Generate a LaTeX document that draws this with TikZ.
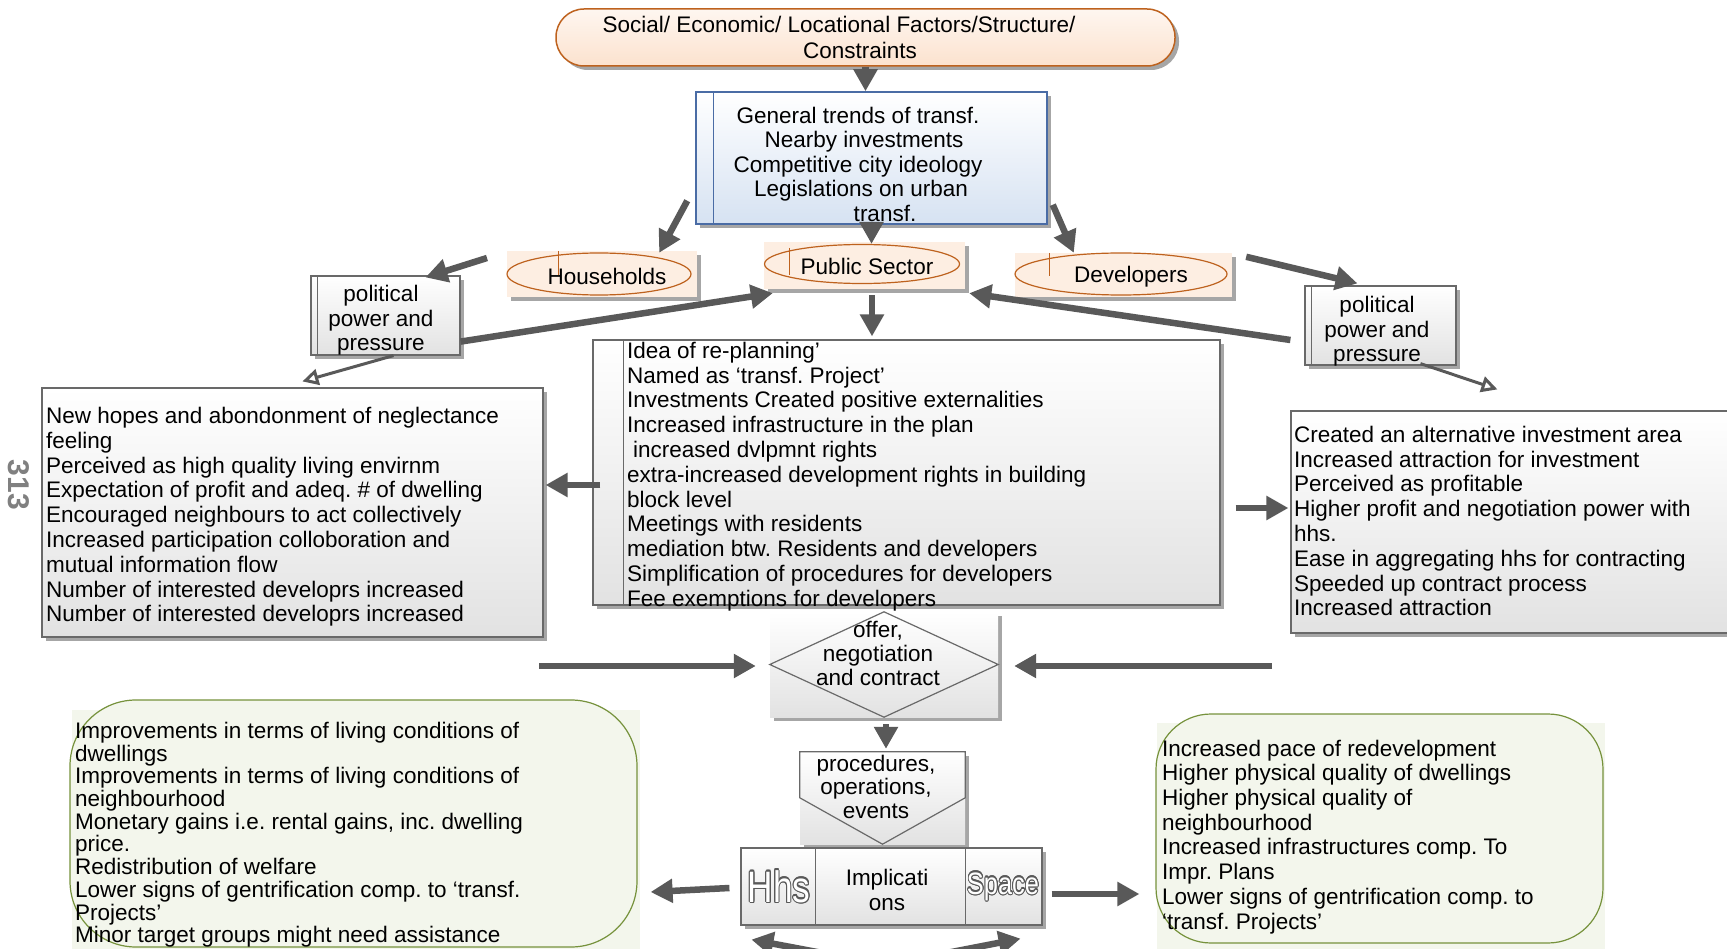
\documentclass[tikz,border=0pt]{standalone}
\usepackage{fontspec}
\usepackage{graphicx}
\setmainfont{Liberation Sans}
\usepackage[copies]{contour}
\usetikzlibrary{arrows.meta,shapes.geometric,shadows,calc}
\definecolor{arrowgray}{RGB}{89,89,89}
\definecolor{boxline}{RGB}{105,105,105}
\definecolor{boxfill}{RGB}{226,226,226}
\definecolor{peachline}{RGB}{190,98,30}
\definecolor{peachfill}{RGB}{252,226,206}
\definecolor{blueline}{RGB}{74,108,165}
\definecolor{bluefill}{RGB}{214,226,242}
\definecolor{greenline}{RGB}{118,146,60}
\definecolor{greenfill}{RGB}{243,246,236}
\definecolor{pagegray}{RGB}{128,128,128}
\contourlength{1.1pt}
\frenchspacing

\tikzset{
	txt/.style={font=\fontsize{22.5}{24.8}\selectfont, inner sep=0pt},
	listtxt/.style={txt, align=left, anchor=north west},
	boxshadow/.style={drop shadow={shadow xshift=4pt, shadow yshift=-4pt, fill=black!35, opacity=1}},
	graybox/.style={draw=boxline, line width=1.2pt, top color=white, bottom color=boxfill, boxshadow},
	peachbg/.style={fill=peachfill!60, boxshadow},
	actor/.style={ellipse, draw=peachline, line width=1.2pt, inner sep=0pt},
	greenbox/.style={draw=greenline, line width=1.2pt, fill=greenfill},
	bigarrow/.style={line width=6.5pt, draw=arrowgray, -{Triangle[length=22pt,width=23pt]}},
	thinarrow/.style={line width=3pt, draw=arrowgray, -{Triangle[open,length=16pt,width=16pt]}}
}

\begin{document}
\begin{tikzpicture}[x=1pt, y=-1pt]
			\useasboundingbox (0,0) rectangle (1727,949);
			\clip (0,0) rectangle (1727,949);
			
			% Page number on the margin
			\node[rotate=-90, font=\fontsize{30}{30}\selectfont\bfseries, text=pagegray, inner sep=0pt] (pageNo) at (19,485) {313};
			
			% Draw the factors and the general trends
			\node[draw=peachline, line width=1.5pt, rounded corners=28pt, top color=peachfill!30, bottom color=peachfill, boxshadow, minimum width=619, minimum height=57] (factors) at (865.5,37.5) {};
			\node[txt, align=center, anchor=north, font=\fontsize{22.5}{26.5}\selectfont] (factorsText) at (860,15.9) {Social/ Economic/ Locational Factors/Structure/\rule{42pt}{0pt}\\Constraints};
			
			\node[draw=blueline, line width=1.5pt, top color=white, bottom color=bluefill, boxshadow, minimum width=351, minimum height=132] (trends) at (871.5,158) {};
			\draw[blueline, line width=1.2pt] ($(trends.north west)+(18,0)$) -- ($(trends.south west)+(18,0)$);
			\node[txt, align=center, anchor=north, font=\fontsize{22.5}{24.5}\selectfont] (trendsText) at (858,106.7) {General trends of transf.\\\rule{12pt}{0pt}Nearby investments\\Competitive city ideology\\\rule{6pt}{0pt}Legislations on urban\\\rule{54pt}{0pt}transf.};
			
			% Draw the three actors
			\node[peachbg, minimum width=190, minimum height=46] (hhBg) at (602,274) {};
			\node[actor, minimum width=184, minimum height=42] (hh) at (599,274) {};
			\draw[peachline, line width=1.2pt] ($(hh.west)+(52,-23)$) -- ($(hh.west)+(52,1)$);
			\node[txt] (hhText) at (607,276) {Households};
			
			\node[peachbg, minimum width=201, minimum height=47] (pubBg) at (864.5,265.5) {};
			\node[actor, minimum width=195, minimum height=39] (pub) at (862,264) {};
			\draw[peachline, line width=1.2pt] ($(pub.west)+(25.5,-16)$) -- ($(pub.west)+(25.5,11)$);
			\node[txt] (pubText) at (867,266) {Public Sector};
			
			\node[peachbg, minimum width=217, minimum height=44] (devBg) at (1123.5,275) {};
			\node[actor, minimum width=212, minimum height=42] (dev) at (1121,274) {};
			\draw[peachline, line width=1.2pt] ($(dev.west)+(35,-21)$) -- ($(dev.west)+(35,2)$);
			\node[txt] (devText) at (1131,277) {Developers};
			
			% Political power boxes
			\node[graybox, minimum width=149, minimum height=79] (polL) at (385.5,315.5) {};
			\draw[boxline, line width=1.2pt] ($(polL.north west)+(7,0)$) -- ($(polL.south west)+(7,0)$);
			\node[txt, align=center, anchor=north] (polLText) at (381,284.7) {political\\power and\\pressure};
			
			\node[graybox, minimum width=151, minimum height=79] (polR) at (1380.5,325.5) {};
			\draw[boxline, line width=1.2pt] ($(polR.north west)+(7,0)$) -- ($(polR.south west)+(7,0)$);
			\node[txt, align=center, anchor=north] (polRText) at (1377,295.7) {political\\power and\\pressure};
			
			% Public sector measures
			\node[graybox, minimum width=627, minimum height=265] (plan) at (906.5,472.5) {};
			\draw[boxline, line width=1.2pt] ($(plan.north west)+(31,0)$) -- ($(plan.south west)+(31,0)$);
			\node[listtxt] (planText) at (627,341.7) {Idea of re-planning’\\Named as ‘transf. Project’\\Investments Created positive externalities\\Increased infrastructure in the plan\\\hspace*{6pt}increased dvlpmnt rights\\extra-increased development rights in building\\block level\\Meetings with residents\\mediation btw. Residents and developers\\Simplification of procedures for developers\\Fee exemptions for developers};
			
			% Effects on households and developers
			\node[graybox, minimum width=501, minimum height=249] (hhEffects) at (292.5,512.5) {};
			\node[listtxt] (hhEffText) at (46,406.9) {New hopes and abondonment of neglectance\\feeling\\Perceived as high quality living envirnm\\Expectation of profit and adeq. \# of dwelling\\Encouraged neighbours to act collectively\\Increased participation colloboration and\\mutual information flow\\Number of interested developrs increased\\Number of interested developrs increased};
			
			\node[graybox, minimum width=460, minimum height=222] (devEffects) at (1521,522) {};
			\node[listtxt] (devEffText) at (1294,425.7) {Created an alternative investment area\\Increased attraction for investment\\Perceived as profitable\\Higher profit and negotiation power with\\hhs.\\Ease in aggregating hhs for contracting\\Speeded up contract process\\Increased attraction};
			
			% Offer, procedures and implications
			\node[top color=white, bottom color=boxfill, boxshadow, minimum width=228, minimum height=105] (offerBg) at (884,664.5) {};
			\draw[boxline, line width=1.2pt] (offerBg.west) -- (offerBg.north) -- (offerBg.east) -- (offerBg.south) -- cycle;
			\node[txt, align=center, anchor=north, font=\fontsize{22.5}{24}\selectfont] (offer) at (878,620.7) {offer,\\negotiation\\and contract};
			
			\node[top color=white, bottom color=boxfill, boxshadow, minimum width=165, minimum height=92] (procBg) at (882.5,798) {};
			\draw[boxline, line width=1.2pt] (procBg.north west) -- (procBg.north east) -- ($(procBg.north east)+(0,46)$) -- (procBg.south) -- ($(procBg.north west)+(0,46)$) -- cycle;
			\node[txt, align=center, anchor=north, font=\fontsize{22.5}{23.5}\selectfont] (proc) at (876,754.7) {procedures,\\operations,\\events};
			
			\node[graybox, minimum width=301, minimum height=77] (impl) at (891.5,886.5) {};
			\draw[boxline, line width=1.2pt] ($(impl.north west)+(75,0)$) -- ($(impl.south west)+(75,0)$);
			\draw[boxline, line width=1.2pt] ($(impl.north west)+(225,0)$) -- ($(impl.south west)+(225,0)$);
			\node[txt, align=center, anchor=north] (implText) at (887,868.7) {Implicati\\ons};
			\node[inner sep=0pt, anchor=base, text=white, font=\fontsize{44}{44}\selectfont] (hhsLabel) at (779,902) {\scalebox{0.8}[1]{\contour{arrowgray}{Hhs}}};
			\node[inner sep=0pt, anchor=base, text=white, font=\fontsize{31}{31}\selectfont] (spaceLabel) at (1003,894) {\scalebox{0.82}[1]{\contour{arrowgray}{Space}}};
			
			% Outcomes for households and space
			\node[fill=greenfill, minimum width=568, minimum height=239] (hhOutBg) at (356,829.5) {};
			\node[greenbox, rounded corners=66pt, minimum width=567, minimum height=247] (hhOut) at (353.5,823.5) {};
			\node[listtxt, font=\fontsize{22.5}{22.7}\selectfont] (hhOutText) at (75,721.9) {Improvements in terms of living conditions of\\dwellings\\Improvements in terms of living conditions of\\neighbourhood\\Monetary gains i.e. rental gains, inc. dwelling\\price.\\Redistribution of welfare\\Lower signs of gentrification comp. to ‘transf.\\Projects’\\Minor target groups might need assistance};
			
			\node[fill=greenfill, minimum width=448, minimum height=226] (spaceOutBg) at (1381,836) {};
			\node[greenbox, rounded corners=55pt, minimum width=447, minimum height=229] (spaceOut) at (1379.5,828.5) {};
			\node[listtxt, font=\fontsize{22.5}{24.7}\selectfont] (spaceOutText) at (1162,739.6) {Increased pace of redevelopment\\Higher physical quality of dwellings\\Higher physical quality of\\neighbourhood\\Increased infrastructures comp. To\\Impr. Plans\\Lower signs of gentrification comp. to\\‘transf. Projects’};
			
			% Free ends of some arrows
			\coordinate (hhPush) at (487,258);
			\coordinate (hhIn) at (539,666);
			\coordinate (devIn) at (1272,666);
			\coordinate (loopL) at (870,962);
			\coordinate (loopR) at (900,962);
			
			% Draw the arrows
			\draw[bigarrow] (factors.south) -- (factors.south |- trends.north);
			\draw[bigarrow] ($(trends.south west)+(-8,-24)$) -- ($(hhBg.north east)+(-38,2)$);
			\draw[bigarrow] (trends.south) -- (trends.south |- pub.north);
			\draw[bigarrow] ($(trends.south east)+(5,-20)$) -- ($(devBg.north west)+(59,0)$);
			\draw[bigarrow] (hhPush) -- ($(polL.north)+(40,2)$);
			\draw[bigarrow] ($(polL.south east)+(0,-14)$) -- ($(pubBg.south west)+(9,4)$);
			\draw[thinarrow] ($(polL.south)+(8,0)$) -- ($(hhEffects.north west)+(261,-6)$);
			\draw[bigarrow] ($(devBg.north east)+(14,4)$) -- ($(polR.north)+(-23,-2)$);
			\draw[bigarrow] ($(polR.west)+(-14,14.5)$) -- ($(pubBg.south east)+(4,4)$);
			\draw[thinarrow] ($(polR.south)+(40,-2)$) -- ($(devEffects.north west)+(207,-21)$);
			\draw[bigarrow] ($(pubBg.south)+(7.5,6)$) -- ($(plan.north)+(-34.5,-3)$);
			\draw[bigarrow] ($(plan.west)+(8,12.5)$) -- ($(hhEffects.east)+(2,-27.5)$);
			\draw[bigarrow] ($(plan.east)+(15,35.5)$) -- ($(devEffects.west)+(-2,-14)$);
			\draw[bigarrow] (hhIn) -- ($(offerBg.west)+(-14,1.5)$);
			\draw[bigarrow] (devIn) -- ($(offerBg.east)+(16,1.5)$);
			\draw[bigarrow] ($(offerBg.south)+(2,7)$) -- ($(procBg.north)+(3.5,-3)$);
			\draw[bigarrow] ($(impl.west)+(-11,1.5)$) -- ($(hhOut.east)+(13,68.5)$);
			\draw[bigarrow] ($(impl.east)+(9,7.5)$) -- ($(spaceOut.west)+(-16,65.5)$);
			\draw[bigarrow] (loopL) -- ($(impl.south west)+(11,14)$);
			\draw[bigarrow] (loopR) -- ($(impl.south east)+(-22,13)$);
\end{tikzpicture}
\end{document}
